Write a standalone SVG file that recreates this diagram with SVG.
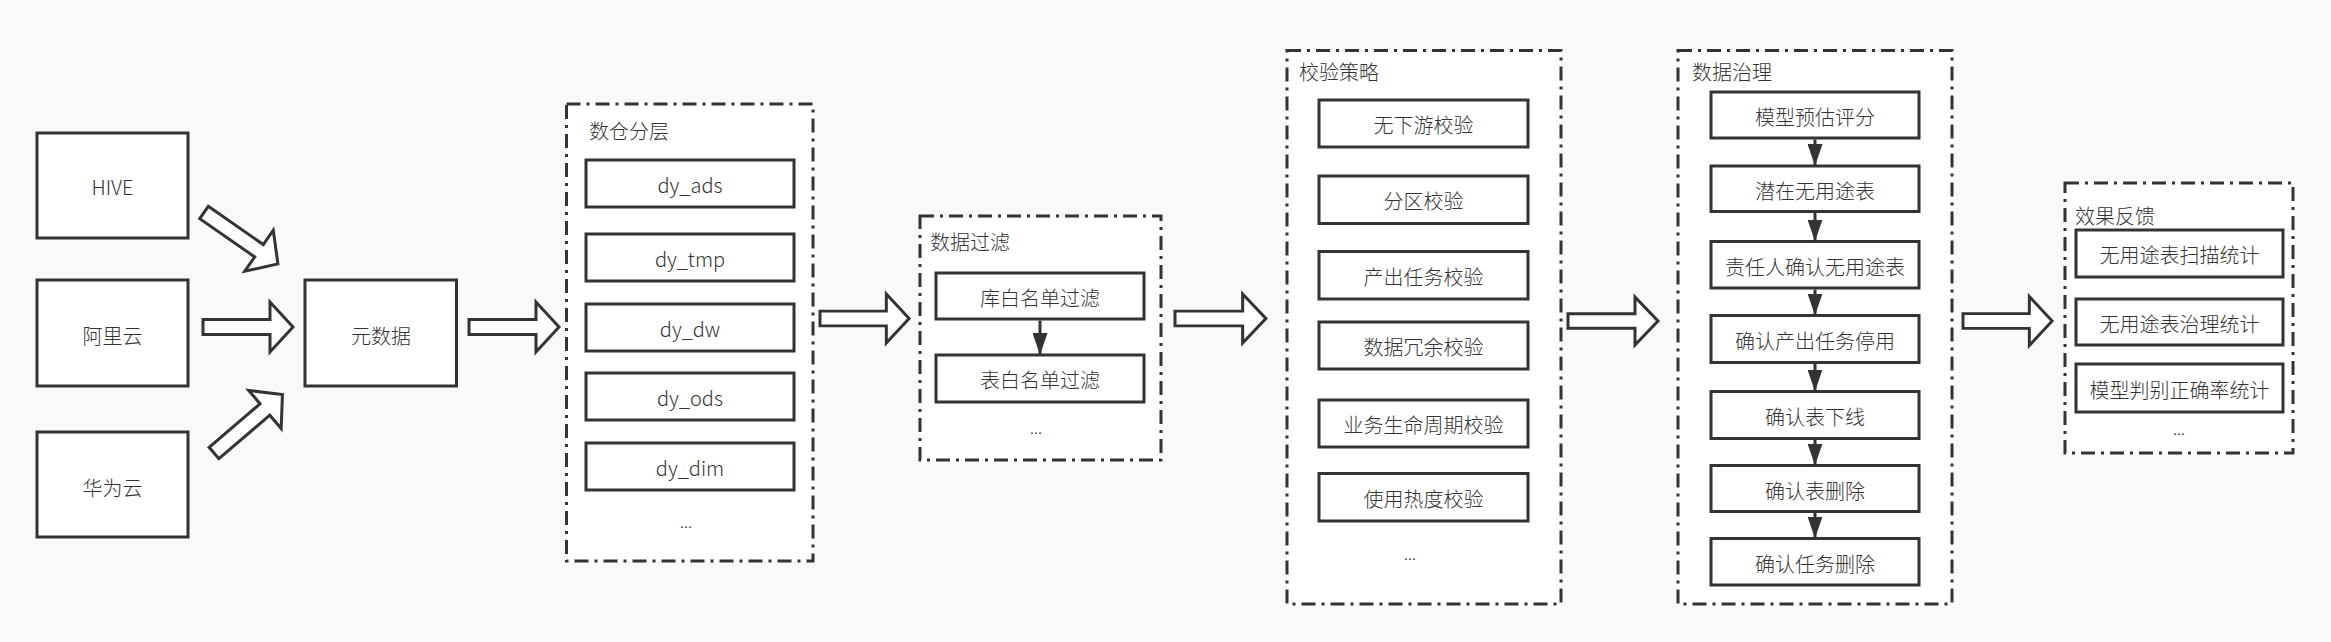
<svg xmlns="http://www.w3.org/2000/svg" width="2331" height="642" viewBox="0 0 2331 642">
<defs>
<style>
.bg{fill:#f9f9f9}
.box{fill:#fff;stroke:#333;stroke-width:3}
.cont{fill:#fff;stroke:#333;stroke-width:3;stroke-dasharray:14 6 3 6}
.barrow{fill:#fff;stroke:#333;stroke-width:3;stroke-linejoin:miter}
.t{font-family:"Noto Sans CJK SC","Microsoft YaHei",sans-serif;font-size:20px;font-weight:300;fill:#333;text-anchor:middle;dominant-baseline:central}
.tl{font-family:"Noto Sans CJK SC","Microsoft YaHei",sans-serif;font-size:20px;font-weight:300;fill:#333;text-anchor:start;dominant-baseline:central}
.dots{font-family:"Noto Sans CJK SC","Microsoft YaHei",sans-serif;font-size:16px;font-weight:300;fill:#333;text-anchor:middle}
.ln{stroke:#333;stroke-width:3;fill:none;marker-end:url(#ah)}
</style>
<marker id="ah" markerUnits="userSpaceOnUse" markerWidth="22" markerHeight="15" refX="22" refY="7.5" orient="auto">
<path d="M0,0 L22,7.5 L0,15 Z" fill="#333"/>
</marker>
<path id="blk" d="M0,-7.5 H67 V-25 L90,0 L67,25 V7.5 H0 Z"/>
</defs>
<rect class="bg" x="0" y="0" width="2331" height="642"/>

<g id="hive"><rect class="box" x="37" y="133" width="151" height="105"/><text class="t" x="112.5" y="186">HIVE</text></g>
<g id="aliyun"><rect class="box" x="37" y="280" width="151" height="106"/><text class="t" x="112.5" y="335">阿里云</text></g>
<g id="huawei"><rect class="box" x="37" y="432" width="151" height="105"/><text class="t" x="112.5" y="487">华为云</text></g>
<g id="metadata"><rect class="box" x="305" y="280" width="151.5" height="106"/><text class="t" x="381" y="335">元数据</text></g>

<g id="layering">
<rect class="cont" x="566.5" y="104" width="246.5" height="457"/>
<text class="tl" x="589" y="130">数仓分层</text>
<rect class="box" x="586" y="160" width="208" height="47"/><text class="t" x="690" y="184">dy_ads</text>
<rect class="box" x="586" y="234" width="208" height="47"/><text class="t" x="690" y="258">dy_tmp</text>
<rect class="box" x="586" y="304" width="208" height="47"/><text class="t" x="690" y="328">dy_dw</text>
<rect class="box" x="586" y="373" width="208" height="47"/><text class="t" x="690" y="397">dy_ods</text>
<rect class="box" x="586" y="443" width="208" height="47"/><text class="t" x="690" y="467">dy_dim</text>
<text class="dots" x="686" y="528">...</text>
</g>

<g id="filter">
<rect class="cont" x="920" y="216" width="241" height="244"/>
<text class="tl" x="930" y="241">数据过滤</text>
<rect class="box" x="936" y="273" width="208" height="46"/><text class="t" x="1040" y="297">库白名单过滤</text>
<rect class="box" x="936" y="355" width="208" height="47"/><text class="t" x="1040" y="379">表白名单过滤</text>
<text class="dots" x="1036" y="434">...</text>
</g>

<g id="check">
<rect class="cont" x="1287" y="50.5" width="274" height="553.5"/>
<text class="tl" x="1299" y="71">校验策略</text>
<rect class="box" x="1319" y="100" width="209" height="47"/><text class="t" x="1423.5" y="124">无下游校验</text>
<rect class="box" x="1319" y="176" width="209" height="47.5"/><text class="t" x="1423.5" y="200">分区校验</text>
<rect class="box" x="1319" y="251.5" width="209" height="47.5"/><text class="t" x="1423.5" y="276">产出任务校验</text>
<rect class="box" x="1319" y="322" width="209" height="47"/><text class="t" x="1423.5" y="346">数据冗余校验</text>
<rect class="box" x="1319" y="400" width="209" height="47"/><text class="t" x="1423.5" y="424">业务生命周期校验</text>
<rect class="box" x="1319" y="473.5" width="209" height="47.5"/><text class="t" x="1423.5" y="498">使用热度校验</text>
<text class="dots" x="1410" y="560">...</text>
</g>

<g id="governance">
<rect class="cont" x="1678" y="50.5" width="274" height="553.5"/>
<text class="tl" x="1692" y="71">数据治理</text>
<rect class="box" x="1711" y="92" width="208" height="46"/><text class="t" x="1815" y="116">模型预估评分</text>
<rect class="box" x="1711" y="166" width="208" height="45.5"/><text class="t" x="1815" y="190">潜在无用途表</text>
<rect class="box" x="1711" y="241.5" width="208" height="46.5"/><text class="t" x="1815" y="266">责任人确认无用途表</text>
<rect class="box" x="1711" y="315.5" width="208" height="47"/><text class="t" x="1815" y="340">确认产出任务停用</text>
<rect class="box" x="1711" y="391.5" width="208" height="47"/><text class="t" x="1815" y="416">确认表下线</text>
<rect class="box" x="1711" y="465.5" width="208" height="46"/><text class="t" x="1815" y="490">确认表删除</text>
<rect class="box" x="1711" y="538.5" width="208" height="46.5"/><text class="t" x="1815" y="563">确认任务删除</text>
</g>

<g id="feedback">
<rect class="cont" x="2065" y="183" width="228" height="270"/>
<text class="tl" x="2075" y="215">效果反馈</text>
<rect class="box" x="2076" y="230" width="207" height="47"/><text class="t" x="2179.5" y="254">无用途表扫描统计</text>
<rect class="box" x="2076" y="299" width="207" height="46"/><text class="t" x="2179.5" y="323">无用途表治理统计</text>
<rect class="box" x="2076" y="364" width="207" height="48"/><text class="t" x="2179.5" y="389">模型判别正确率统计</text>
<text class="dots" x="2179" y="435">...</text>
</g>

<g id="connectors">
<use href="#blk" class="barrow" transform="translate(204,212.5) rotate(34.8)"/>
<use href="#blk" class="barrow" transform="translate(203,327)"/>
<use href="#blk" class="barrow" transform="translate(214,453) rotate(-40.5)"/>
<use href="#blk" class="barrow" transform="translate(469,327)"/>
<use href="#blk" class="barrow" transform="translate(820,318.5) scale(0.99,0.98)"/>
<use href="#blk" class="barrow" transform="translate(1175,318.5) scale(1.01,0.98)"/>
<use href="#blk" class="barrow" transform="translate(1568,321) scale(1,0.96)"/>
<use href="#blk" class="barrow" transform="translate(1963,321) scale(0.99,0.98)"/>
<line class="ln" x1="1040" y1="320.5" x2="1040" y2="355"/>
<line class="ln" x1="1815" y1="139.5" x2="1815" y2="166"/>
<line class="ln" x1="1815" y1="213" x2="1815" y2="241.5"/>
<line class="ln" x1="1815" y1="289.5" x2="1815" y2="315.5"/>
<line class="ln" x1="1815" y1="364" x2="1815" y2="391.5"/>
<line class="ln" x1="1815" y1="440" x2="1815" y2="465.5"/>
<line class="ln" x1="1815" y1="513" x2="1815" y2="538.5"/>
</g>
</svg>
